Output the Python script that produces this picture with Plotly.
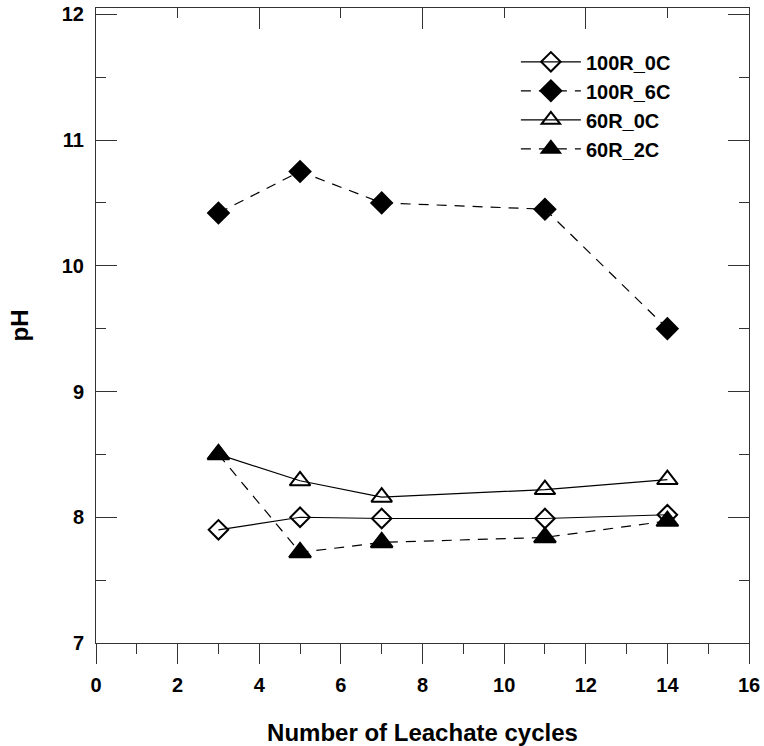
import plotly.graph_objects as go

# Leachate cycles sampled
cycles = [3, 5, 7, 11, 14]

# pH per mix
ph_100r_0c = [7.90, 8.00, 7.99, 7.99, 8.02]
ph_100r_6c = [10.42, 10.75, 10.50, 10.45, 9.50]
ph_60r_0c = [8.50, 8.29, 8.16, 8.22, 8.30]
ph_60r_2c = [8.50, 7.72, 7.80, 7.84, 7.97]

series_names = ["100R_0C", "100R_6C", "60R_0C", "60R_2C"]

FONT = "Liberation Sans, Arial, Helvetica, sans-serif"
AXIS_COLOR = "#333333"

fig = go.Figure()

styles = [
    (ph_100r_0c, "solid", "diamond-open", 15),
    (ph_100r_6c, "10px,8px", "diamond", 16),
    (ph_60r_0c, "solid", "triangle-up-open", 18),
    (ph_60r_2c, "10px,8px", "triangle-up", 19),
]

for name, (vals, dash, symbol, size) in zip(series_names, styles):
    fig.add_trace(go.Scatter(
        x=cycles, y=vals, name=name,
        mode="lines+markers",
        line=dict(color="black", width=1.2, dash=dash),
        marker=dict(symbol=symbol, size=size, color="black",
                    line=dict(color="black", width=2)),
    ))

# empty trace so the top axis gets drawn
fig.add_trace(go.Scatter(x=[None], y=[None], xaxis="x2", showlegend=False,
                         hoverinfo="skip"))

fig.update_layout(
    width=764, height=746,
    margin=dict(l=96, r=15, t=8, b=103, autoexpand=False),
    paper_bgcolor="white", plot_bgcolor="white",
    font=dict(family=FONT, color="black"),
    showlegend=True,
    legend=dict(
        x=0.643, y=0.946, xanchor="left", yanchor="top",
        bgcolor="rgba(0,0,0,0)",
        font=dict(family=FONT, size=20, color="black", weight="bold"),
        itemwidth=60, tracegroupgap=0,
    ),
    xaxis=dict(
        range=[0, 16], dtick=2, tick0=0, automargin=False,
        showline=True, linecolor=AXIS_COLOR, linewidth=1, mirror=False,
        ticks="outside", ticklen=20, tickwidth=1, tickcolor=AXIS_COLOR,
        minor=dict(dtick=1, ticks="outside", ticklen=10, tickwidth=1,
                   tickcolor=AXIS_COLOR),
        showgrid=False, zeroline=False,
        tickfont=dict(family=FONT, size=20, color="black", weight="bold"),
        ticklabelstandoff=4,
        title=dict(text="Number of Leachate cycles", standoff=30,
                   font=dict(family=FONT, size=24, color="black", weight="bold")),
    ),
    xaxis2=dict(
        overlaying="x", side="top", range=[0, 16], anchor="y", automargin=False,
        dtick=4, tick0=0,
        showline=True, linecolor=AXIS_COLOR, linewidth=1,
        ticks="inside", ticklen=21, tickwidth=1, tickcolor=AXIS_COLOR,
        minor=dict(dtick=2, ticks="inside", ticklen=10, tickwidth=1,
                   tickcolor=AXIS_COLOR),
        showticklabels=False, showgrid=False, zeroline=False,
    ),
    yaxis=dict(
        range=[7, 12.05], dtick=1, tick0=7, automargin=False,
        showline=True, linecolor=AXIS_COLOR, linewidth=1, mirror="ticks",
        ticks="inside", ticklen=21, tickwidth=1, tickcolor=AXIS_COLOR,
        minor=dict(dtick=0.5, ticks="inside", ticklen=10, tickwidth=1,
                   tickcolor=AXIS_COLOR),
        showgrid=False, zeroline=False,
        tickfont=dict(family=FONT, size=20, color="black", weight="bold"),
        ticklabelstandoff=7,
        title=dict(text="pH", standoff=26,
                   font=dict(family=FONT, size=24, color="black", weight="bold")),
    ),
)

fig.write_html("out.html")
